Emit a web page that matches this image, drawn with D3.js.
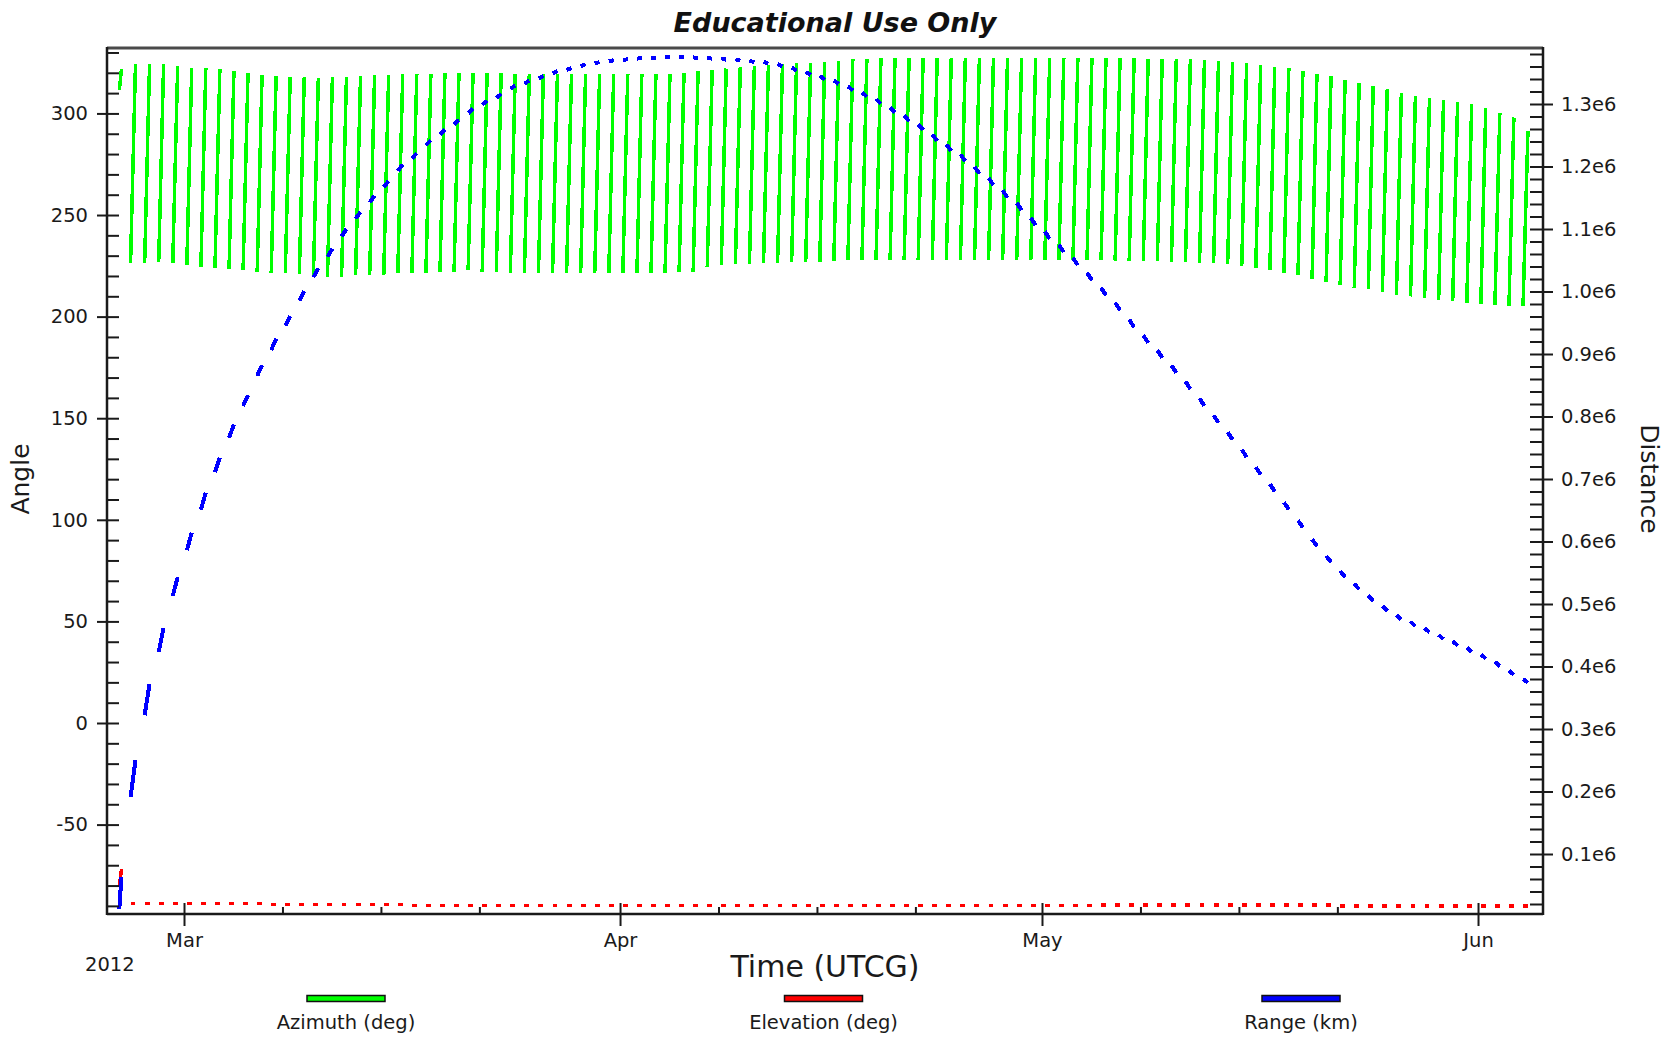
<!DOCTYPE html>
<html><head><meta charset="utf-8">
<script src="https://cdn.jsdelivr.net/npm/d3@7"></script>
<style>
html,body{margin:0;padding:0;background:#fff;}
svg{display:block;}
text{font-family:"DejaVu Sans",Verdana,sans-serif;}
</style></head><body>
<svg id="chart" width="1680" height="1037"></svg>
<script>
// ---------- DATA (days after 2012-03-01 00:00 UTC) ----------
const passStart = [-4.6,
-3.8,-2.8,-1.8,-0.8,0.2,1.2,2.2,3.2,4.2,5.2,
6.2,7.2,8.2,9.2,10.2,11.2,12.2,13.2,14.2,15.2,
16.2,17.2,18.2,19.2,20.2,21.2,22.2,23.2,24.2,25.2,
26.2,27.2,28.2,29.2,30.2,31.2,32.2,33.2,34.2,35.2,
36.2,37.2,38.2,39.2,40.2,41.2,42.2,43.2,44.2,45.2,
46.2,47.2,48.2,49.2,50.2,51.2,52.2,53.2,54.2,55.2,
56.2,57.2,58.2,59.2,60.2,61.2,62.2,63.2,64.2,65.2,
66.2,67.2,68.2,69.2,70.2,71.2,72.2,73.2,74.2,75.2,
76.2,77.2,78.2,79.2,80.2,81.2,82.2,83.2,84.2,85.2,
86.2,87.2,88.2,89.2,90.2,91.2,92.2,93.2,94.2,95.2];
const passEnd = [-4.45,
-3.45,-2.45,-1.45,-0.45,0.55,1.55,2.55,3.55,4.55,5.55,
6.55,7.55,8.55,9.55,10.55,11.55,12.55,13.55,14.55,15.55,
16.55,17.55,18.55,19.55,20.55,21.55,22.55,23.55,24.55,25.55,
26.55,27.55,28.55,29.55,30.55,31.55,32.55,33.55,34.55,35.55,
36.55,37.55,38.55,39.55,40.55,41.55,42.55,43.55,44.55,45.55,
46.55,47.55,48.55,49.55,50.55,51.55,52.55,53.55,54.55,55.55,
56.55,57.55,58.55,59.55,60.55,61.55,62.55,63.55,64.55,65.55,
66.55,67.55,68.55,69.55,70.55,71.55,72.55,73.55,74.55,75.55,
76.55,77.55,78.55,79.55,80.55,81.55,82.55,83.55,84.55,85.55,
86.55,87.55,88.55,89.55,90.55,91.55,92.55,93.55,94.55,95.55];

// Azimuth (deg) at start and end of each pass
const azimuthStart = [311.5,
226.4,226.4,226.9,226.4,225.4,224.4,223.9,223.4,222.9,221.9,
221.5,221.5,221.0,220.5,219.5,219.5,220.5,220.5,220.5,221.6,
221.6,221.6,222.1,222.1,222.9,222.1,222.1,221.6,221.6,221.6,
221.3,221.6,221.6,221.6,221.3,221.3,221.3,221.3,221.3,222.1,
222.1,224.5,225.4,225.9,225.9,226.2,226.4,227.0,227.0,227.0,
227.5,227.8,227.8,227.8,227.8,227.8,227.8,227.8,227.8,227.8,
227.8,227.8,227.8,227.8,227.8,227.8,227.8,227.8,227.8,227.8,
227.6,227.5,227.4,227.2,227.0,226.8,226.5,226.2,226.0,225.0,
224.0,223.0,221.4,220.4,218.6,217.2,215.6,214.2,213.4,212.3,
210.8,209.9,209.0,208.2,207.9,206.8,206.0,205.5,205.2,205.2];
const azimuthEnd = [321.7,
324.3,324.3,324.3,323.3,322.3,322.3,321.8,320.9,319.9,318.9,
318.4,317.9,317.9,317.4,317.9,317.9,318.4,318.9,318.9,319.4,
319.4,319.4,320.0,320.0,320.0,320.0,320.0,319.4,319.4,319.4,
319.4,319.4,319.4,319.4,319.4,319.4,319.4,319.4,319.4,320.0,
321.0,321.5,322.1,322.9,323.3,323.8,324.3,324.6,325.0,325.4,
326.0,326.6,327.0,327.2,327.3,327.3,327.3,327.3,327.3,327.3,
327.3,327.3,327.3,327.3,327.3,327.3,327.3,327.3,327.3,327.3,
327.2,327.1,327.0,327.0,326.8,326.6,326.2,325.6,325.3,324.8,
324.0,323.0,322.2,320.8,319.5,318.2,316.6,315.0,313.4,312.0,
310.2,308.8,307.7,306.7,305.6,304.8,302.5,300.0,298.0,291.4];

// Range (thousand km): mid-pass value and change over the pass
const rangeMid = [37.5,
220.5,347,442.5,528,600,664.5,722.5,776.5,825.5,873.5,
915.5,953,993,1030,1062,1094,1122,1148,1172,1198,
1217,1238,1255,1271,1289,1302,1313,1327,1335,1343,
1351,1356,1362,1366,1369,1371,1373,1374,1374.5,1374.5,
1374,1373,1372,1370.5,1368,1366,1362,1356,1349,1342,
1335,1325,1315,1304,1290,1277,1263,1246,1230,1214,
1194,1176,1156,1136,1112,1090,1069,1048,1024,1000,
976,949,924,900,876,850,823,796,769,741,
713,686,657,628,598,572,548,528,509,493,
479,468,458,447,437,427,416,404,390,377];
const rangeChange = [51,
59,50,39,30,28,27,23,21,17,17,
18,16,15,14,13,12,11,11,10,10,
9,8,8,7,7,6,6,5,5,4,
4,3,3,2,2,1,1,0,0,0,
-1,-1,-2,-2,-3,-3,-4,-5,-5,-6,
-6,-7,-7,-8,-8,-9,-9,-10,-10,-11,
-11,-11,-12,-12,-12,-12,-12,-12,-12,-12,
-12,-12,-12,-12,-12,-12,-12,-12,-12,-12,
-12,-12,-11,-11,-11,-10,-10,-9,-9,-8,
-8,-8,-7,-7,-7,-7,-7,-7,-7,-6];

// Elevation (deg): mid-pass value and change over the pass
const elevationMid = [-76.5,
-88.9,-88.9,-88.9,-88.9,-88.9,-88.9,-88.9,-88.9,-88.9,-88.9,
-89.4,-89.4,-89.4,-89.4,-89.4,-89.4,-89.4,-89.4,-89.4,-89.4,
-89.9,-89.9,-89.9,-89.9,-89.9,-89.9,-89.9,-89.9,-89.9,-89.9,
-89.9,-89.9,-89.9,-89.7,-89.7,-89.7,-89.7,-89.7,-89.7,-89.7,
-89.7,-89.7,-89.7,-89.7,-89.7,-89.7,-89.7,-89.7,-89.7,-89.7,
-89.7,-89.7,-89.7,-89.7,-89.7,-89.7,-89.7,-89.7,-89.7,-89.7,
-89.7,-89.7,-89.7,-89.7,-89.7,-89.7,-89.7,-89.7,-89.7,-89.5,
-89.5,-89.5,-89.5,-89.5,-89.5,-89.5,-89.5,-89.5,-89.5,-89.5,
-89.5,-89.5,-89.5,-89.5,-89.5,-89.5,-90.0,-90.0,-90.0,-90.0,
-90.0,-90.0,-90.0,-90.0,-90.0,-90.0,-90.0,-90.0,-90.0,-90.0];
const elevationChange = [9,
0,0,0,0,0,0,0,0,0,0, 0,0,0,0,0,0,0,0,0,0,
0,0,0,0,0,0,0,0,0,0, 0,0,0,0,0,0,0,0,0,0,
0,0,0,0,0,0,0,0,0,0, 0,0,0,0,0,0,0,0,0,0,
0,0,0,0,0,0,0,0,0,0, 0,0,0,0,0,0,0,0,0,0,
0,0,0,0,0,0,0,0,0,0, 0,0,0,0,0,0,0,0,0,0];

// Axes
const timeDomain = ["2012-02-24T12:36:00Z", "2012-06-05T14:53:00Z"];
const angleDomain = [-94.0, 332.2];
const distanceDomain = [4000, 1389600];
const monthTicks = ["2012-03-01","2012-04-01","2012-05-01","2012-06-01"];
const weekTicks = ["2012-03-08","2012-03-15","2012-03-22","2012-04-08","2012-04-15","2012-04-22","2012-05-08","2012-05-15","2012-05-22"];
const angleTicks = [-50,0,50,100,150,200,250,300];
const distanceTicks = [100000,200000,300000,400000,500000,600000,700000,800000,900000,1000000,1100000,1200000,1300000];
const legendLabels = ["Azimuth (deg)","Elevation (deg)","Range (km)"];
const legendColors = ["#00ff00","#ff0000","#0000ff"];

// ---------- LAYOUT ----------
const W=1680,H=1037,L=107,R=1543,T=48,B=914;
const svg=d3.select("#chart");
svg.append("rect").attr("width",W).attr("height",H).attr("fill","#fff");
const epoch=Date.UTC(2012,2,1);
const day=d=>new Date(epoch+d*864e5);
const x=d3.scaleUtc().domain(timeDomain.map(s=>new Date(s))).range([L,R]);
const yA=d3.scaleLinear().domain(angleDomain).range([B,T]);
const yD=d3.scaleLinear().domain(distanceDomain).range([B,T]);

const passes=passStart.map((s,i)=>({
  t0:day(s), t1:day(passEnd[i]),
  az0:azimuthStart[i], az1:azimuthEnd[i],
  r0:(rangeMid[i]-rangeChange[i]/2)*1000, r1:(rangeMid[i]+rangeChange[i]/2)*1000,
  e0:elevationMid[i]-elevationChange[i]/2, e1:elevationMid[i]+elevationChange[i]/2
}));

svg.append("clipPath").attr("id","plot").append("rect")
  .attr("x",L).attr("y",T).attr("width",R-L).attr("height",B-T);
const g=svg.append("g").attr("clip-path","url(#plot)");
const line=d3.line();

g.selectAll("path.az").data(passes).join("path").attr("class","az")
  .attr("d",p=>line([[x(p.t0),yA(p.az0)],[x(p.t1),yA(p.az1)]]))
  .attr("fill","none").attr("stroke","#00ff00").attr("stroke-width",3.5)
  .attr("shape-rendering","crispEdges");
g.selectAll("path.el").data(passes).join("path").attr("class","el")
  .attr("d",p=>line([[x(p.t0),yA(p.e0)],[x(p.t1),yA(p.e1)]]))
  .attr("fill","none").attr("stroke","#ff0000").attr("stroke-width",3.5)
  .attr("shape-rendering","crispEdges");
g.selectAll("path.rg").data(passes).join("path").attr("class","rg")
  .attr("d",p=>line([[x(p.t0),yD(p.r0)],[x(p.t1),yD(p.r1)]]))
  .attr("fill","none").attr("stroke","#0000ff").attr("stroke-width",4)
  .attr("shape-rendering","crispEdges");

// ---------- AXES ----------
function styleAxis(sel){
  sel.select(".domain").remove();
  sel.attr("font-family","DejaVu Sans, Verdana, sans-serif").attr("font-size",19.5).attr("color","#1a1a1a");
  sel.selectAll(".tick line").attr("stroke","#1a1a1a").attr("stroke-width",2);
}
// left
svg.append("g").attr("transform",`translate(${L},0)`)
  .call(d3.axisLeft(yA).tickValues(angleTicks).tickSize(10).tickPadding(9).tickFormat(d=>String(d)))
  .call(styleAxis);
svg.append("g").attr("transform",`translate(${L},0)`)
  .call(d3.axisLeft(yA).tickValues(d3.range(-90,331,10)).tickSize(-12).tickFormat(""))
  .call(styleAxis);
// right
svg.append("g").attr("transform",`translate(${R},0)`)
  .call(d3.axisRight(yD).tickValues(distanceTicks).tickSize(10).tickPadding(8).tickFormat(d=>(d/1e6).toFixed(1)+"e6"))
  .call(styleAxis);
svg.append("g").attr("transform",`translate(${R},0)`)
  .call(d3.axisRight(yD).tickValues(d3.range(1,70).map(i=>i*20000)).tickSize(-13).tickFormat(""))
  .call(styleAxis);
// bottom
const months=monthTicks.map(s=>new Date(s+"T00:00:00Z"));
const weeks=weekTicks.map(s=>new Date(s+"T00:00:00Z"));
svg.append("g").attr("transform",`translate(0,${B})`)
  .call(d3.axisBottom(x).tickValues(months).tickSize(12).tickPadding(7).tickFormat(d3.utcFormat("%b")))
  .call(styleAxis);
svg.append("g").attr("transform",`translate(0,${B})`)
  .call(d3.axisBottom(x).tickValues(months).tickSize(-11).tickFormat(""))
  .call(styleAxis);
svg.append("g").attr("transform",`translate(0,${B})`)
  .call(d3.axisBottom(x).tickValues(weeks).tickSize(-7).tickFormat(""))
  .call(styleAxis);

// frame
const fr=svg.append("g").attr("fill","none");
fr.append("line").attr("x1",L).attr("x2",R).attr("y1",T).attr("y2",T).attr("stroke","#4a4a4a").attr("stroke-width",3);
fr.append("line").attr("x1",L).attr("x2",L).attr("y1",T-1).attr("y2",B+1).attr("stroke","#1a1a1a").attr("stroke-width",2.5);
fr.append("line").attr("x1",R).attr("x2",R).attr("y1",T-1).attr("y2",B+1).attr("stroke","#1a1a1a").attr("stroke-width",2.5);
fr.append("line").attr("x1",L).attr("x2",R).attr("y1",B).attr("y2",B).attr("stroke","#1a1a1a").attr("stroke-width",2.5);

// ---------- TEXT ----------
svg.append("text").attr("x",835).attr("y",32).attr("text-anchor","middle")
  .attr("font-size",27).attr("font-weight","bold").attr("font-style","italic").attr("fill","#111")
  .text("Educational Use Only");
svg.append("text").attr("x",85).attr("y",971).attr("font-size",19.5).attr("fill","#1a1a1a").text("2012");
svg.append("text").attr("x",825).attr("y",977).attr("text-anchor","middle")
  .attr("font-size",30).attr("fill","#1a1a1a").text("Time (UTCG)");
svg.append("text").attr("transform","translate(29,479) rotate(-90)").attr("text-anchor","middle")
  .attr("font-size",25).attr("fill","#1a1a1a").text("Angle");
svg.append("text").attr("transform","translate(1641,479) rotate(90)").attr("text-anchor","middle")
  .attr("font-size",25).attr("fill","#1a1a1a").text("Distance");

// legend
const legendX=d3.scalePoint().domain(legendLabels).range([346,1301]);
const lg=svg.append("g");
legendLabels.forEach((lab,i)=>{
  const cx=legendX(lab);
  lg.append("rect").attr("x",cx-39).attr("y",995.5).attr("width",78).attr("height",6)
    .attr("fill",legendColors[i]).attr("stroke","#111").attr("stroke-width",1.5);
  lg.append("text").attr("x",cx).attr("y",1029).attr("text-anchor","middle")
    .attr("font-size",19.5).attr("fill","#1a1a1a").text(lab);
});
</script>
</body></html>
